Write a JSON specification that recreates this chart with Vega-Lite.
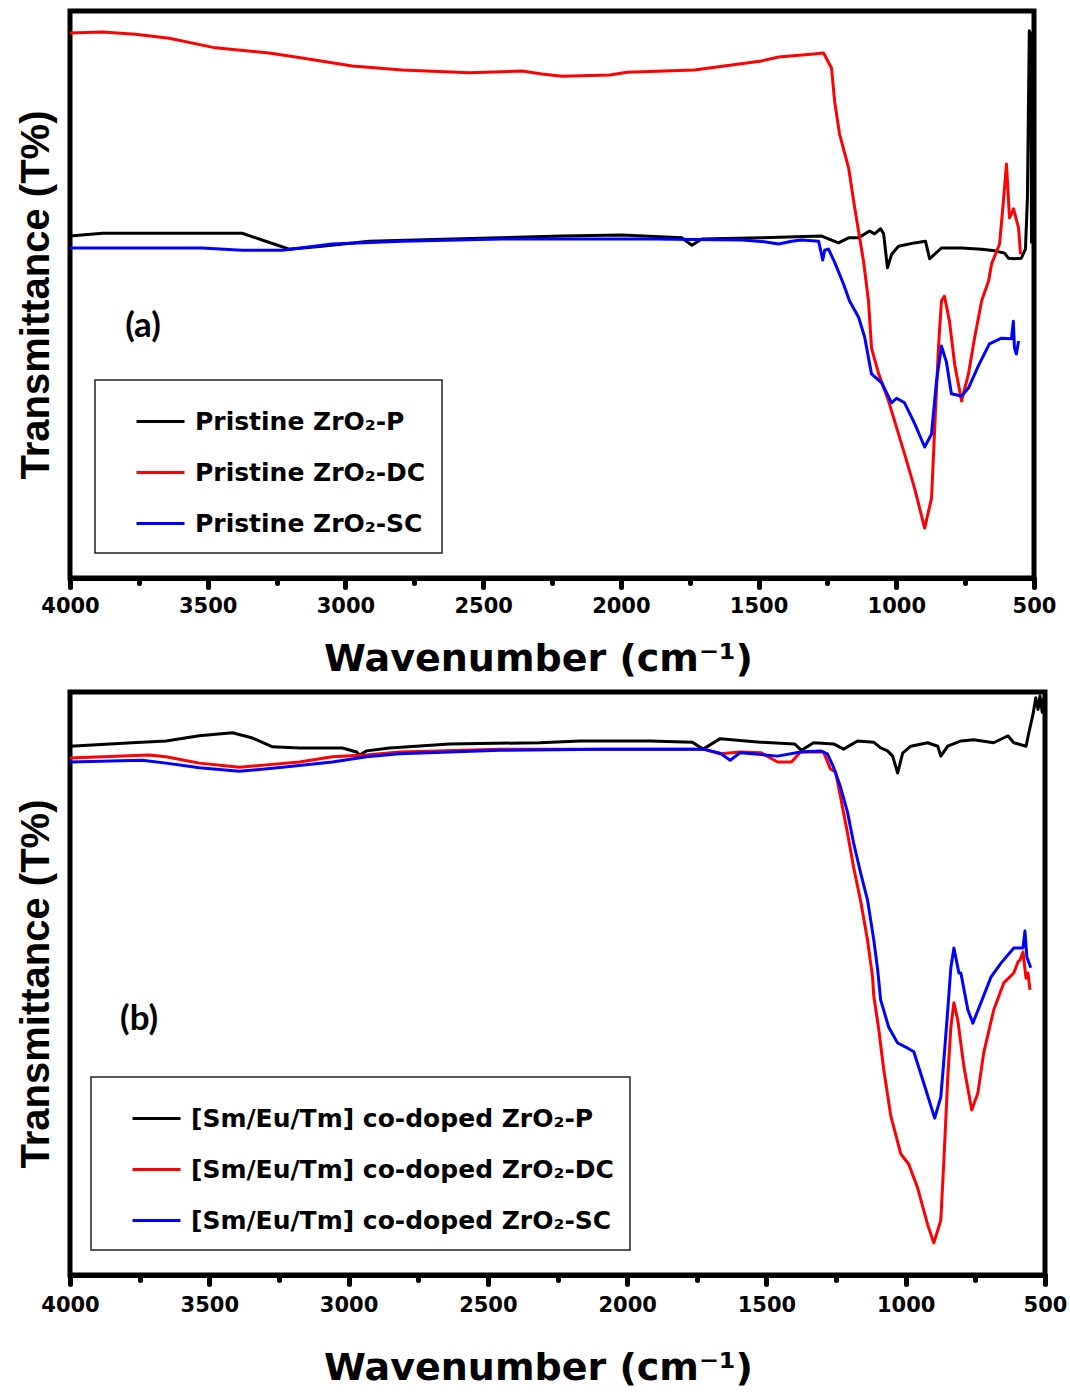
{
  "$schema": "https://vega.github.io/schema/vega-lite/v6.json",
  "padding": {"top": 8, "left": 13, "right": 4, "bottom": 0},
  "background": "white",
  "config": {
    "view": {"stroke": "black", "strokeWidth": 5},
    "legend": {"strokeWidth": 1.5}
  },
  "spacing": 8,
  "resolve": {"scale": {"color": "independent"}, "legend": {"color": "independent"}},
  "datasets": {
    "pa": [
      {"s": "Pristine ZrO₂-P", "w": 4000, "t": 60.3}, {"s": "Pristine ZrO₂-P", "w": 3882, "t": 60.8}, {"s": "Pristine ZrO₂-P", "w": 3629, "t": 60.8}, {"s": "Pristine ZrO₂-P", "w": 3375, "t": 60.8}, {"s": "Pristine ZrO₂-P", "w": 3284, "t": 59.3}, {"s": "Pristine ZrO₂-P", "w": 3204, "t": 58.0}, {"s": "Pristine ZrO₂-P", "w": 3085, "t": 58.5}, {"s": "Pristine ZrO₂-P", "w": 2914, "t": 59.4}, {"s": "Pristine ZrO₂-P", "w": 2613, "t": 59.8}, {"s": "Pristine ZrO₂-P", "w": 2214, "t": 60.3}, {"s": "Pristine ZrO₂-P", "w": 1996, "t": 60.5}, {"s": "Pristine ZrO₂-P", "w": 1779, "t": 60.0}, {"s": "Pristine ZrO₂-P", "w": 1742, "t": 58.7}, {"s": "Pristine ZrO₂-P", "w": 1706, "t": 59.8}, {"s": "Pristine ZrO₂-P", "w": 1489, "t": 60.0}, {"s": "Pristine ZrO₂-P", "w": 1271, "t": 60.3}, {"s": "Pristine ZrO₂-P", "w": 1210, "t": 59.1}, {"s": "Pristine ZrO₂-P", "w": 1173, "t": 60.0}, {"s": "Pristine ZrO₂-P", "w": 1137, "t": 60.0}, {"s": "Pristine ZrO₂-P", "w": 1097, "t": 61.2}, {"s": "Pristine ZrO₂-P", "w": 1079, "t": 60.7}, {"s": "Pristine ZrO₂-P", "w": 1057, "t": 61.6}, {"s": "Pristine ZrO₂-P", "w": 1046, "t": 60.7}, {"s": "Pristine ZrO₂-P", "w": 1032, "t": 54.7}, {"s": "Pristine ZrO₂-P", "w": 1017, "t": 57.1}, {"s": "Pristine ZrO₂-P", "w": 992, "t": 58.5}, {"s": "Pristine ZrO₂-P", "w": 934, "t": 59.1}, {"s": "Pristine ZrO₂-P", "w": 894, "t": 59.4}, {"s": "Pristine ZrO₂-P", "w": 879, "t": 56.3}, {"s": "Pristine ZrO₂-P", "w": 861, "t": 57.1}, {"s": "Pristine ZrO₂-P", "w": 836, "t": 58.2}, {"s": "Pristine ZrO₂-P", "w": 763, "t": 58.2}, {"s": "Pristine ZrO₂-P", "w": 690, "t": 58.0}, {"s": "Pristine ZrO₂-P", "w": 643, "t": 57.7}, {"s": "Pristine ZrO₂-P", "w": 607, "t": 57.3}, {"s": "Pristine ZrO₂-P", "w": 593, "t": 56.4}, {"s": "Pristine ZrO₂-P", "w": 571, "t": 56.3}, {"s": "Pristine ZrO₂-P", "w": 546, "t": 56.4}, {"s": "Pristine ZrO₂-P", "w": 531, "t": 58.0}, {"s": "Pristine ZrO₂-P", "w": 524, "t": 66.9}, {"s": "Pristine ZrO₂-P", "w": 517, "t": 96.5}, {"s": "Pristine ZrO₂-P", "w": 512, "t": 96.0}, {"s": "Pristine ZrO₂-P", "w": 509, "t": 59.0},
      {"s": "Pristine ZrO₂-DC", "w": 4000, "t": 96.1}, {"s": "Pristine ZrO₂-DC", "w": 3882, "t": 96.3}, {"s": "Pristine ZrO₂-DC", "w": 3763, "t": 95.9}, {"s": "Pristine ZrO₂-DC", "w": 3640, "t": 95.2}, {"s": "Pristine ZrO₂-DC", "w": 3472, "t": 93.5}, {"s": "Pristine ZrO₂-DC", "w": 3277, "t": 92.6}, {"s": "Pristine ZrO₂-DC", "w": 3157, "t": 91.7}, {"s": "Pristine ZrO₂-DC", "w": 2975, "t": 90.3}, {"s": "Pristine ZrO₂-DC", "w": 2794, "t": 89.6}, {"s": "Pristine ZrO₂-DC", "w": 2550, "t": 89.1}, {"s": "Pristine ZrO₂-DC", "w": 2359, "t": 89.4}, {"s": "Pristine ZrO₂-DC", "w": 2287, "t": 88.9}, {"s": "Pristine ZrO₂-DC", "w": 2214, "t": 88.5}, {"s": "Pristine ZrO₂-DC", "w": 2040, "t": 88.7}, {"s": "Pristine ZrO₂-DC", "w": 1978, "t": 89.2}, {"s": "Pristine ZrO₂-DC", "w": 1733, "t": 89.6}, {"s": "Pristine ZrO₂-DC", "w": 1489, "t": 91.2}, {"s": "Pristine ZrO₂-DC", "w": 1427, "t": 91.9}, {"s": "Pristine ZrO₂-DC", "w": 1300, "t": 92.4}, {"s": "Pristine ZrO₂-DC", "w": 1264, "t": 92.6}, {"s": "Pristine ZrO₂-DC", "w": 1235, "t": 89.9}, {"s": "Pristine ZrO₂-DC", "w": 1224, "t": 84.1}, {"s": "Pristine ZrO₂-DC", "w": 1206, "t": 78.3}, {"s": "Pristine ZrO₂-DC", "w": 1173, "t": 72.3}, {"s": "Pristine ZrO₂-DC", "w": 1151, "t": 65.3}, {"s": "Pristine ZrO₂-DC", "w": 1119, "t": 55.9}, {"s": "Pristine ZrO₂-DC", "w": 1101, "t": 48.9}, {"s": "Pristine ZrO₂-DC", "w": 1090, "t": 40.6}, {"s": "Pristine ZrO₂-DC", "w": 1064, "t": 36.0}, {"s": "Pristine ZrO₂-DC", "w": 1028, "t": 31.2}, {"s": "Pristine ZrO₂-DC", "w": 970, "t": 21.9}, {"s": "Pristine ZrO₂-DC", "w": 934, "t": 15.9}, {"s": "Pristine ZrO₂-DC", "w": 897, "t": 8.8}, {"s": "Pristine ZrO₂-DC", "w": 872, "t": 14.1}, {"s": "Pristine ZrO₂-DC", "w": 861, "t": 25.9}, {"s": "Pristine ZrO₂-DC", "w": 847, "t": 40.6}, {"s": "Pristine ZrO₂-DC", "w": 836, "t": 48.9}, {"s": "Pristine ZrO₂-DC", "w": 825, "t": 49.7}, {"s": "Pristine ZrO₂-DC", "w": 807, "t": 45.3}, {"s": "Pristine ZrO₂-DC", "w": 788, "t": 37.7}, {"s": "Pristine ZrO₂-DC", "w": 763, "t": 31.2}, {"s": "Pristine ZrO₂-DC", "w": 738, "t": 36.0}, {"s": "Pristine ZrO₂-DC", "w": 716, "t": 42.3}, {"s": "Pristine ZrO₂-DC", "w": 690, "t": 48.9}, {"s": "Pristine ZrO₂-DC", "w": 665, "t": 52.4}, {"s": "Pristine ZrO₂-DC", "w": 654, "t": 55.4}, {"s": "Pristine ZrO₂-DC", "w": 625, "t": 58.9}, {"s": "Pristine ZrO₂-DC", "w": 611, "t": 66.5}, {"s": "Pristine ZrO₂-DC", "w": 600, "t": 73.0}, {"s": "Pristine ZrO₂-DC", "w": 589, "t": 63.5}, {"s": "Pristine ZrO₂-DC", "w": 574, "t": 65.1}, {"s": "Pristine ZrO₂-DC", "w": 556, "t": 61.7}, {"s": "Pristine ZrO₂-DC", "w": 549, "t": 57.1},
      {"s": "Pristine ZrO₂-SC", "w": 4000, "t": 58.2}, {"s": "Pristine ZrO₂-SC", "w": 3520, "t": 58.2}, {"s": "Pristine ZrO₂-SC", "w": 3375, "t": 57.8}, {"s": "Pristine ZrO₂-SC", "w": 3230, "t": 57.8}, {"s": "Pristine ZrO₂-SC", "w": 3048, "t": 58.9}, {"s": "Pristine ZrO₂-SC", "w": 2794, "t": 59.4}, {"s": "Pristine ZrO₂-SC", "w": 2432, "t": 59.8}, {"s": "Pristine ZrO₂-SC", "w": 1888, "t": 59.8}, {"s": "Pristine ZrO₂-SC", "w": 1561, "t": 59.6}, {"s": "Pristine ZrO₂-SC", "w": 1480, "t": 59.3}, {"s": "Pristine ZrO₂-SC", "w": 1427, "t": 58.9}, {"s": "Pristine ZrO₂-SC", "w": 1380, "t": 59.4}, {"s": "Pristine ZrO₂-SC", "w": 1344, "t": 59.6}, {"s": "Pristine ZrO₂-SC", "w": 1282, "t": 59.4}, {"s": "Pristine ZrO₂-SC", "w": 1267, "t": 56.1}, {"s": "Pristine ZrO₂-SC", "w": 1260, "t": 57.8}, {"s": "Pristine ZrO₂-SC", "w": 1246, "t": 58.0}, {"s": "Pristine ZrO₂-SC", "w": 1224, "t": 55.7}, {"s": "Pristine ZrO₂-SC", "w": 1192, "t": 51.9}, {"s": "Pristine ZrO₂-SC", "w": 1170, "t": 48.9}, {"s": "Pristine ZrO₂-SC", "w": 1137, "t": 46.0}, {"s": "Pristine ZrO₂-SC", "w": 1115, "t": 42.5}, {"s": "Pristine ZrO₂-SC", "w": 1090, "t": 36.0}, {"s": "Pristine ZrO₂-SC", "w": 1053, "t": 34.4}, {"s": "Pristine ZrO₂-SC", "w": 1017, "t": 30.9}, {"s": "Pristine ZrO₂-SC", "w": 999, "t": 31.7}, {"s": "Pristine ZrO₂-SC", "w": 970, "t": 30.9}, {"s": "Pristine ZrO₂-SC", "w": 934, "t": 27.3}, {"s": "Pristine ZrO₂-SC", "w": 897, "t": 23.1}, {"s": "Pristine ZrO₂-SC", "w": 872, "t": 25.4}, {"s": "Pristine ZrO₂-SC", "w": 854, "t": 34.7}, {"s": "Pristine ZrO₂-SC", "w": 836, "t": 40.9}, {"s": "Pristine ZrO₂-SC", "w": 818, "t": 38.1}, {"s": "Pristine ZrO₂-SC", "w": 800, "t": 32.5}, {"s": "Pristine ZrO₂-SC", "w": 763, "t": 32.1}, {"s": "Pristine ZrO₂-SC", "w": 738, "t": 33.5}, {"s": "Pristine ZrO₂-SC", "w": 702, "t": 37.4}, {"s": "Pristine ZrO₂-SC", "w": 662, "t": 41.3}, {"s": "Pristine ZrO₂-SC", "w": 618, "t": 42.3}, {"s": "Pristine ZrO₂-SC", "w": 582, "t": 42.2}, {"s": "Pristine ZrO₂-SC", "w": 575, "t": 45.3}, {"s": "Pristine ZrO₂-SC", "w": 571, "t": 40.6}, {"s": "Pristine ZrO₂-SC", "w": 564, "t": 39.5}, {"s": "Pristine ZrO₂-SC", "w": 556, "t": 41.8}
    ],
    "pb": [
      {"s": "[Sm/Eu/Tm] co-doped ZrO₂-P", "w": 4000, "t": 90.7}, {"s": "[Sm/Eu/Tm] co-doped ZrO₂-P", "w": 3777, "t": 91.3}, {"s": "[Sm/Eu/Tm] co-doped ZrO₂-P", "w": 3655, "t": 91.6}, {"s": "[Sm/Eu/Tm] co-doped ZrO₂-P", "w": 3536, "t": 92.5}, {"s": "[Sm/Eu/Tm] co-doped ZrO₂-P", "w": 3417, "t": 93.0}, {"s": "[Sm/Eu/Tm] co-doped ZrO₂-P", "w": 3345, "t": 92.1}, {"s": "[Sm/Eu/Tm] co-doped ZrO₂-P", "w": 3273, "t": 90.6}, {"s": "[Sm/Eu/Tm] co-doped ZrO₂-P", "w": 3176, "t": 90.4}, {"s": "[Sm/Eu/Tm] co-doped ZrO₂-P", "w": 3022, "t": 90.4}, {"s": "[Sm/Eu/Tm] co-doped ZrO₂-P", "w": 2971, "t": 89.7}, {"s": "[Sm/Eu/Tm] co-doped ZrO₂-P", "w": 2960, "t": 89.2}, {"s": "[Sm/Eu/Tm] co-doped ZrO₂-P", "w": 2935, "t": 89.9}, {"s": "[Sm/Eu/Tm] co-doped ZrO₂-P", "w": 2853, "t": 90.4}, {"s": "[Sm/Eu/Tm] co-doped ZrO₂-P", "w": 2637, "t": 91.1}, {"s": "[Sm/Eu/Tm] co-doped ZrO₂-P", "w": 2313, "t": 91.3}, {"s": "[Sm/Eu/Tm] co-doped ZrO₂-P", "w": 2169, "t": 91.6}, {"s": "[Sm/Eu/Tm] co-doped ZrO₂-P", "w": 1917, "t": 91.6}, {"s": "[Sm/Eu/Tm] co-doped ZrO₂-P", "w": 1766, "t": 91.4}, {"s": "[Sm/Eu/Tm] co-doped ZrO₂-P", "w": 1727, "t": 90.2}, {"s": "[Sm/Eu/Tm] co-doped ZrO₂-P", "w": 1666, "t": 92.0}, {"s": "[Sm/Eu/Tm] co-doped ZrO₂-P", "w": 1522, "t": 91.4}, {"s": "[Sm/Eu/Tm] co-doped ZrO₂-P", "w": 1399, "t": 91.1}, {"s": "[Sm/Eu/Tm] co-doped ZrO₂-P", "w": 1374, "t": 90.0}, {"s": "[Sm/Eu/Tm] co-doped ZrO₂-P", "w": 1331, "t": 91.3}, {"s": "[Sm/Eu/Tm] co-doped ZrO₂-P", "w": 1259, "t": 91.1}, {"s": "[Sm/Eu/Tm] co-doped ZrO₂-P", "w": 1223, "t": 90.2}, {"s": "[Sm/Eu/Tm] co-doped ZrO₂-P", "w": 1173, "t": 91.6}, {"s": "[Sm/Eu/Tm] co-doped ZrO₂-P", "w": 1115, "t": 91.4}, {"s": "[Sm/Eu/Tm] co-doped ZrO₂-P", "w": 1090, "t": 90.4}, {"s": "[Sm/Eu/Tm] co-doped ZrO₂-P", "w": 1065, "t": 89.9}, {"s": "[Sm/Eu/Tm] co-doped ZrO₂-P", "w": 1047, "t": 89.0}, {"s": "[Sm/Eu/Tm] co-doped ZrO₂-P", "w": 1029, "t": 86.1}, {"s": "[Sm/Eu/Tm] co-doped ZrO₂-P", "w": 1011, "t": 89.5}, {"s": "[Sm/Eu/Tm] co-doped ZrO₂-P", "w": 982, "t": 90.7}, {"s": "[Sm/Eu/Tm] co-doped ZrO₂-P", "w": 921, "t": 91.3}, {"s": "[Sm/Eu/Tm] co-doped ZrO₂-P", "w": 885, "t": 90.7}, {"s": "[Sm/Eu/Tm] co-doped ZrO₂-P", "w": 874, "t": 89.0}, {"s": "[Sm/Eu/Tm] co-doped ZrO₂-P", "w": 849, "t": 90.7}, {"s": "[Sm/Eu/Tm] co-doped ZrO₂-P", "w": 802, "t": 91.6}, {"s": "[Sm/Eu/Tm] co-doped ZrO₂-P", "w": 756, "t": 91.8}, {"s": "[Sm/Eu/Tm] co-doped ZrO₂-P", "w": 684, "t": 91.3}, {"s": "[Sm/Eu/Tm] co-doped ZrO₂-P", "w": 633, "t": 92.5}, {"s": "[Sm/Eu/Tm] co-doped ZrO₂-P", "w": 612, "t": 91.3}, {"s": "[Sm/Eu/Tm] co-doped ZrO₂-P", "w": 568, "t": 90.7}, {"s": "[Sm/Eu/Tm] co-doped ZrO₂-P", "w": 558, "t": 93.0}, {"s": "[Sm/Eu/Tm] co-doped ZrO₂-P", "w": 543, "t": 96.2}, {"s": "[Sm/Eu/Tm] co-doped ZrO₂-P", "w": 533, "t": 99.0}, {"s": "[Sm/Eu/Tm] co-doped ZrO₂-P", "w": 525, "t": 97.0}, {"s": "[Sm/Eu/Tm] co-doped ZrO₂-P", "w": 518, "t": 99.3}, {"s": "[Sm/Eu/Tm] co-doped ZrO₂-P", "w": 510, "t": 96.5}, {"s": "[Sm/Eu/Tm] co-doped ZrO₂-P", "w": 505, "t": 99.0},
      {"s": "[Sm/Eu/Tm] co-doped ZrO₂-DC", "w": 4000, "t": 88.7}, {"s": "[Sm/Eu/Tm] co-doped ZrO₂-DC", "w": 3716, "t": 89.2}, {"s": "[Sm/Eu/Tm] co-doped ZrO₂-DC", "w": 3655, "t": 88.9}, {"s": "[Sm/Eu/Tm] co-doped ZrO₂-DC", "w": 3536, "t": 87.8}, {"s": "[Sm/Eu/Tm] co-doped ZrO₂-DC", "w": 3392, "t": 87.1}, {"s": "[Sm/Eu/Tm] co-doped ZrO₂-DC", "w": 3295, "t": 87.5}, {"s": "[Sm/Eu/Tm] co-doped ZrO₂-DC", "w": 3176, "t": 88.0}, {"s": "[Sm/Eu/Tm] co-doped ZrO₂-DC", "w": 3058, "t": 88.9}, {"s": "[Sm/Eu/Tm] co-doped ZrO₂-DC", "w": 2935, "t": 89.2}, {"s": "[Sm/Eu/Tm] co-doped ZrO₂-DC", "w": 2817, "t": 89.7}, {"s": "[Sm/Eu/Tm] co-doped ZrO₂-DC", "w": 2457, "t": 90.2}, {"s": "[Sm/Eu/Tm] co-doped ZrO₂-DC", "w": 2097, "t": 90.2}, {"s": "[Sm/Eu/Tm] co-doped ZrO₂-DC", "w": 1727, "t": 90.2}, {"s": "[Sm/Eu/Tm] co-doped ZrO₂-DC", "w": 1666, "t": 89.4}, {"s": "[Sm/Eu/Tm] co-doped ZrO₂-DC", "w": 1594, "t": 89.7}, {"s": "[Sm/Eu/Tm] co-doped ZrO₂-DC", "w": 1520, "t": 89.6}, {"s": "[Sm/Eu/Tm] co-doped ZrO₂-DC", "w": 1460, "t": 88.0}, {"s": "[Sm/Eu/Tm] co-doped ZrO₂-DC", "w": 1410, "t": 88.0}, {"s": "[Sm/Eu/Tm] co-doped ZrO₂-DC", "w": 1378, "t": 89.7}, {"s": "[Sm/Eu/Tm] co-doped ZrO₂-DC", "w": 1295, "t": 89.7}, {"s": "[Sm/Eu/Tm] co-doped ZrO₂-DC", "w": 1270, "t": 86.8}, {"s": "[Sm/Eu/Tm] co-doped ZrO₂-DC", "w": 1252, "t": 86.3}, {"s": "[Sm/Eu/Tm] co-doped ZrO₂-DC", "w": 1234, "t": 82.0}, {"s": "[Sm/Eu/Tm] co-doped ZrO₂-DC", "w": 1209, "t": 75.8}, {"s": "[Sm/Eu/Tm] co-doped ZrO₂-DC", "w": 1187, "t": 69.9}, {"s": "[Sm/Eu/Tm] co-doped ZrO₂-DC", "w": 1162, "t": 64.2}, {"s": "[Sm/Eu/Tm] co-doped ZrO₂-DC", "w": 1137, "t": 57.4}, {"s": "[Sm/Eu/Tm] co-doped ZrO₂-DC", "w": 1119, "t": 51.1}, {"s": "[Sm/Eu/Tm] co-doped ZrO₂-DC", "w": 1115, "t": 48.0}, {"s": "[Sm/Eu/Tm] co-doped ZrO₂-DC", "w": 1097, "t": 42.2}, {"s": "[Sm/Eu/Tm] co-doped ZrO₂-DC", "w": 1079, "t": 35.3}, {"s": "[Sm/Eu/Tm] co-doped ZrO₂-DC", "w": 1054, "t": 27.4}, {"s": "[Sm/Eu/Tm] co-doped ZrO₂-DC", "w": 1018, "t": 20.8}, {"s": "[Sm/Eu/Tm] co-doped ZrO₂-DC", "w": 989, "t": 19.0}, {"s": "[Sm/Eu/Tm] co-doped ZrO₂-DC", "w": 957, "t": 14.9}, {"s": "[Sm/Eu/Tm] co-doped ZrO₂-DC", "w": 921, "t": 8.6}, {"s": "[Sm/Eu/Tm] co-doped ZrO₂-DC", "w": 899, "t": 5.5}, {"s": "[Sm/Eu/Tm] co-doped ZrO₂-DC", "w": 874, "t": 9.4}, {"s": "[Sm/Eu/Tm] co-doped ZrO₂-DC", "w": 863, "t": 19.7}, {"s": "[Sm/Eu/Tm] co-doped ZrO₂-DC", "w": 849, "t": 33.9}, {"s": "[Sm/Eu/Tm] co-doped ZrO₂-DC", "w": 838, "t": 42.5}, {"s": "[Sm/Eu/Tm] co-doped ZrO₂-DC", "w": 827, "t": 46.7}, {"s": "[Sm/Eu/Tm] co-doped ZrO₂-DC", "w": 813, "t": 43.7}, {"s": "[Sm/Eu/Tm] co-doped ZrO₂-DC", "w": 791, "t": 35.7}, {"s": "[Sm/Eu/Tm] co-doped ZrO₂-DC", "w": 763, "t": 28.3}, {"s": "[Sm/Eu/Tm] co-doped ZrO₂-DC", "w": 741, "t": 31.2}, {"s": "[Sm/Eu/Tm] co-doped ZrO₂-DC", "w": 720, "t": 38.1}, {"s": "[Sm/Eu/Tm] co-doped ZrO₂-DC", "w": 684, "t": 45.5}, {"s": "[Sm/Eu/Tm] co-doped ZrO₂-DC", "w": 648, "t": 50.1}, {"s": "[Sm/Eu/Tm] co-doped ZrO₂-DC", "w": 612, "t": 51.8}, {"s": "[Sm/Eu/Tm] co-doped ZrO₂-DC", "w": 597, "t": 53.7}, {"s": "[Sm/Eu/Tm] co-doped ZrO₂-DC", "w": 590, "t": 54.0}, {"s": "[Sm/Eu/Tm] co-doped ZrO₂-DC", "w": 579, "t": 55.4}, {"s": "[Sm/Eu/Tm] co-doped ZrO₂-DC", "w": 568, "t": 50.9}, {"s": "[Sm/Eu/Tm] co-doped ZrO₂-DC", "w": 561, "t": 51.8}, {"s": "[Sm/Eu/Tm] co-doped ZrO₂-DC", "w": 554, "t": 48.9},
      {"s": "[Sm/Eu/Tm] co-doped ZrO₂-SC", "w": 4000, "t": 88.0}, {"s": "[Sm/Eu/Tm] co-doped ZrO₂-SC", "w": 3741, "t": 88.3}, {"s": "[Sm/Eu/Tm] co-doped ZrO₂-SC", "w": 3655, "t": 87.8}, {"s": "[Sm/Eu/Tm] co-doped ZrO₂-SC", "w": 3536, "t": 87.0}, {"s": "[Sm/Eu/Tm] co-doped ZrO₂-SC", "w": 3392, "t": 86.4}, {"s": "[Sm/Eu/Tm] co-doped ZrO₂-SC", "w": 3237, "t": 87.1}, {"s": "[Sm/Eu/Tm] co-doped ZrO₂-SC", "w": 3058, "t": 88.0}, {"s": "[Sm/Eu/Tm] co-doped ZrO₂-SC", "w": 2935, "t": 88.9}, {"s": "[Sm/Eu/Tm] co-doped ZrO₂-SC", "w": 2817, "t": 89.4}, {"s": "[Sm/Eu/Tm] co-doped ZrO₂-SC", "w": 2457, "t": 90.0}, {"s": "[Sm/Eu/Tm] co-doped ZrO₂-SC", "w": 2097, "t": 90.2}, {"s": "[Sm/Eu/Tm] co-doped ZrO₂-SC", "w": 1727, "t": 90.2}, {"s": "[Sm/Eu/Tm] co-doped ZrO₂-SC", "w": 1666, "t": 89.5}, {"s": "[Sm/Eu/Tm] co-doped ZrO₂-SC", "w": 1630, "t": 88.3}, {"s": "[Sm/Eu/Tm] co-doped ZrO₂-SC", "w": 1594, "t": 89.6}, {"s": "[Sm/Eu/Tm] co-doped ZrO₂-SC", "w": 1460, "t": 89.0}, {"s": "[Sm/Eu/Tm] co-doped ZrO₂-SC", "w": 1378, "t": 89.7}, {"s": "[Sm/Eu/Tm] co-doped ZrO₂-SC", "w": 1306, "t": 89.9}, {"s": "[Sm/Eu/Tm] co-doped ZrO₂-SC", "w": 1281, "t": 89.4}, {"s": "[Sm/Eu/Tm] co-doped ZrO₂-SC", "w": 1259, "t": 87.1}, {"s": "[Sm/Eu/Tm] co-doped ZrO₂-SC", "w": 1234, "t": 83.7}, {"s": "[Sm/Eu/Tm] co-doped ZrO₂-SC", "w": 1209, "t": 79.4}, {"s": "[Sm/Eu/Tm] co-doped ZrO₂-SC", "w": 1187, "t": 74.1}, {"s": "[Sm/Eu/Tm] co-doped ZrO₂-SC", "w": 1162, "t": 69.0}, {"s": "[Sm/Eu/Tm] co-doped ZrO₂-SC", "w": 1137, "t": 64.3}, {"s": "[Sm/Eu/Tm] co-doped ZrO₂-SC", "w": 1115, "t": 57.6}, {"s": "[Sm/Eu/Tm] co-doped ZrO₂-SC", "w": 1101, "t": 52.5}, {"s": "[Sm/Eu/Tm] co-doped ZrO₂-SC", "w": 1090, "t": 47.2}, {"s": "[Sm/Eu/Tm] co-doped ZrO₂-SC", "w": 1061, "t": 42.5}, {"s": "[Sm/Eu/Tm] co-doped ZrO₂-SC", "w": 1029, "t": 39.8}, {"s": "[Sm/Eu/Tm] co-doped ZrO₂-SC", "w": 1000, "t": 39.1}, {"s": "[Sm/Eu/Tm] co-doped ZrO₂-SC", "w": 971, "t": 38.3}, {"s": "[Sm/Eu/Tm] co-doped ZrO₂-SC", "w": 935, "t": 32.9}, {"s": "[Sm/Eu/Tm] co-doped ZrO₂-SC", "w": 896, "t": 26.9}, {"s": "[Sm/Eu/Tm] co-doped ZrO₂-SC", "w": 874, "t": 30.5}, {"s": "[Sm/Eu/Tm] co-doped ZrO₂-SC", "w": 863, "t": 36.9}, {"s": "[Sm/Eu/Tm] co-doped ZrO₂-SC", "w": 849, "t": 45.5}, {"s": "[Sm/Eu/Tm] co-doped ZrO₂-SC", "w": 838, "t": 52.7}, {"s": "[Sm/Eu/Tm] co-doped ZrO₂-SC", "w": 827, "t": 56.1}, {"s": "[Sm/Eu/Tm] co-doped ZrO₂-SC", "w": 809, "t": 51.8}, {"s": "[Sm/Eu/Tm] co-doped ZrO₂-SC", "w": 802, "t": 51.8}, {"s": "[Sm/Eu/Tm] co-doped ZrO₂-SC", "w": 777, "t": 45.5}, {"s": "[Sm/Eu/Tm] co-doped ZrO₂-SC", "w": 759, "t": 43.2}, {"s": "[Sm/Eu/Tm] co-doped ZrO₂-SC", "w": 730, "t": 46.7}, {"s": "[Sm/Eu/Tm] co-doped ZrO₂-SC", "w": 694, "t": 51.1}, {"s": "[Sm/Eu/Tm] co-doped ZrO₂-SC", "w": 658, "t": 53.5}, {"s": "[Sm/Eu/Tm] co-doped ZrO₂-SC", "w": 612, "t": 56.1}, {"s": "[Sm/Eu/Tm] co-doped ZrO₂-SC", "w": 579, "t": 56.1}, {"s": "[Sm/Eu/Tm] co-doped ZrO₂-SC", "w": 572, "t": 59.0}, {"s": "[Sm/Eu/Tm] co-doped ZrO₂-SC", "w": 565, "t": 54.5}, {"s": "[Sm/Eu/Tm] co-doped ZrO₂-SC", "w": 551, "t": 52.7}
    ],
    "la": [{"label": "(a)", "w": 3735, "t": 44.4}],
    "lb": [{"label": "(b)", "w": 3752, "t": 43.9}]
  },
  "vconcat": [
    {
      "width": 964,
      "height": 567,
      "resolve": {"axis": {"x": "independent"}},
      "layer": [
        {
          "data": {"name": "pa"},
          "mark": {"type": "line", "strokeWidth": 3, "strokeJoin": "round"},
          "encoding": {
            "x": {"field": "w", "type": "quantitative",
              "scale": {"domain": [500, 4000], "reverse": true, "nice": false, "zero": false},
              "axis": {"orient": "bottom", "values": [4000, 3500, 3000, 2500, 2000, 1500, 1000, 500], "format": "d", "title": "Wavenumber (cm⁻¹)", "titleFont": "DejaVu Sans", "titleFontWeight": "bold", "titleFontSize": 38, "titleColor": "black", "titleX": 468, "titleY": 62, "titleAlign": "center", "titleBaseline": "top", "titlePadding": 27, "labelFont": "DejaVu Sans", "labelFontWeight": "bold", "labelFontSize": 21, "labelColor": "black", "labelPadding": 8, "labelFlush": false, "labelOverlap": false, "domainColor": "black", "domainWidth": 5, "tickColor": "black", "tickWidth": 5, "tickSize": 9, "tickCap": "round", "grid": false}},
            "y": {"field": "t", "type": "quantitative",
              "scale": {"domain": [0, 100], "nice": false, "zero": false},
              "axis": {"title": "Transmittance (T%)", "titleFont": "Liberation Sans", "titleFontWeight": "bold", "titleFontSize": 40, "titleColor": "black", "titlePadding": 14, "labels": false, "ticks": false, "domain": false, "grid": false}},
            "color": {"field": "s", "type": "nominal",
              "scale": {"domain": ["Pristine ZrO₂-P", "Pristine ZrO₂-DC", "Pristine ZrO₂-SC"], "range": ["#000000", "#ff0000", "#0000ff"]},
              "legend": {"title": null, "orient": "none", "legendX": 25, "legendY": 369, "symbolType": "stroke", "symbolSize": 2304, "symbolStrokeWidth": 3, "symbolOffset": 24, "labelOffset": 9, "labelFont": "DejaVu Sans", "labelFontWeight": "bold", "labelFontSize": 25, "labelColor": "black", "labelLimit": 0, "rowPadding": 12, "padding": 16, "strokeColor": "#222222", "fillColor": "white"}}
          }
        },
        {
          "data": {"name": "la"},
          "mark": {"type": "text", "font": "Lato", "fontWeight": "bold", "fontSize": 35, "color": "black"},
          "encoding": {
            "x": {"field": "w", "type": "quantitative",
              "axis": {"orient": "bottom", "values": [3750, 3250, 2750, 2250, 1750, 1250, 750], "labels": false, "domain": false, "title": null, "tickColor": "black", "tickWidth": 5, "tickSize": 5, "tickCap": "round", "grid": false}},
            "y": {"field": "t", "type": "quantitative"},
            "text": {"field": "label"}
          }
        }
      ]
    },
    {
      "width": 975,
      "height": 583,
      "resolve": {"axis": {"x": "independent"}},
      "layer": [
        {
          "data": {"name": "pb"},
          "mark": {"type": "line", "strokeWidth": 3, "strokeJoin": "round"},
          "encoding": {
            "x": {"field": "w", "type": "quantitative",
              "scale": {"domain": [500, 4000], "reverse": true, "nice": false, "zero": false},
              "axis": {"orient": "bottom", "values": [4000, 3500, 3000, 2500, 2000, 1500, 1000, 500], "format": "d", "title": "Wavenumber (cm⁻¹)", "titleFont": "DejaVu Sans", "titleFontWeight": "bold", "titleFontSize": 38, "titleColor": "black", "titleX": 468, "titleY": 74, "titleAlign": "center", "titleBaseline": "top", "titlePadding": 36, "labelFont": "DejaVu Sans", "labelFontWeight": "bold", "labelFontSize": 21, "labelColor": "black", "labelPadding": 10, "labelFlush": false, "labelOverlap": false, "domainColor": "black", "domainWidth": 5, "tickColor": "black", "tickWidth": 5, "tickSize": 9, "tickCap": "round", "grid": false}},
            "y": {"field": "t", "type": "quantitative",
              "scale": {"domain": [0, 100], "nice": false, "zero": false},
              "axis": {"title": "Transmittance (T%)", "titleFont": "Liberation Sans", "titleFontWeight": "bold", "titleFontSize": 40, "titleColor": "black", "titlePadding": 14, "labels": false, "ticks": false, "domain": false, "grid": false}},
            "color": {"field": "s", "type": "nominal",
              "scale": {"domain": ["[Sm/Eu/Tm] co-doped ZrO₂-P", "[Sm/Eu/Tm] co-doped ZrO₂-DC", "[Sm/Eu/Tm] co-doped ZrO₂-SC"], "range": ["#000000", "#ff0000", "#0000ff"]},
              "legend": {"title": null, "orient": "none", "legendX": 21, "legendY": 385, "symbolType": "stroke", "symbolSize": 2304, "symbolStrokeWidth": 3, "symbolOffset": 24, "labelOffset": 9, "labelFont": "DejaVu Sans", "labelFontWeight": "bold", "labelFontSize": 25, "labelColor": "black", "labelLimit": 0, "rowPadding": 12, "padding": 16, "strokeColor": "#222222", "fillColor": "white"}}
          }
        },
        {
          "data": {"name": "lb"},
          "mark": {"type": "text", "font": "Lato", "fontWeight": "bold", "fontSize": 35, "color": "black"},
          "encoding": {
            "x": {"field": "w", "type": "quantitative",
              "axis": {"orient": "bottom", "values": [3750, 3250, 2750, 2250, 1750, 1250, 750], "labels": false, "domain": false, "title": null, "tickColor": "black", "tickWidth": 5, "tickSize": 5, "tickCap": "round", "grid": false}},
            "y": {"field": "t", "type": "quantitative"},
            "text": {"field": "label"}
          }
        }
      ]
    }
  ]
}
